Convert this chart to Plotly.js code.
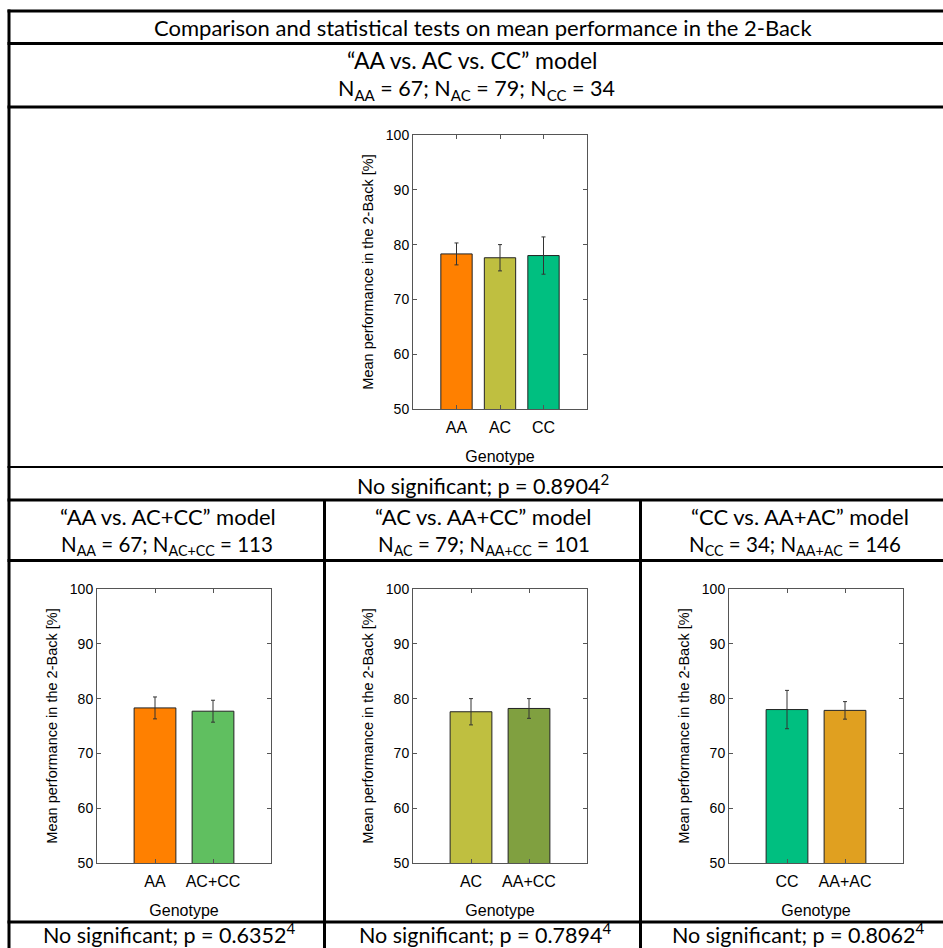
<!DOCTYPE html>
<html>
<head>
<meta charset="utf-8">
<script src="https://cdn.plot.ly/plotly-3.0.1.min.js"></script>
<style>html,body{margin:0;padding:0;background:#fff;}#chart{width:943px;height:948px;}</style>
</head>
<body>
<div id="chart"></div>
<script>
// ---- Data ----
const catsAll = ['AA', 'AC', 'CC'];
const meansAll = [78.3, 77.6, 78.0];
const errAll = [2.0, 2.4, 3.4];
const colorsAll = ['#FF8000', '#BFBF40', '#00BF80'];

const catsAA = ['AA', 'AC+CC'];
const meansAA = [78.3, 77.7];
const errAA = [2.0, 2.0];
const colorsAA = ['#FF8000', '#60BF60'];

const catsAC = ['AC', 'AA+CC'];
const meansAC = [77.6, 78.2];
const errAC = [2.4, 1.8];
const colorsAC = ['#BFBF40', '#80A040'];

const catsCC = ['CC', 'AA+AC'];
const meansCC = [78.0, 77.85];
const errCC = [3.5, 1.6];
const colorsCC = ['#00BF80', '#E0A020'];

const yTicks = [50, 60, 70, 80, 90, 100];
const yTitle = 'Mean performance in the 2-Back [%]';
const xTitle = 'Genotype';

const headerTitle = 'Comparison and statistical tests on mean performance in the 2-Back';
const modelAll = '“AA vs. AC vs. CC” model';
const nAll = 'N<sub>AA</sub> = 67; N<sub>AC</sub> = 79; N<sub>CC</sub> = 34';
const pAll = 'No significant; p = 0.8904<sup>2</sup>';
const modelTexts = ['“AA vs. AC+CC” model', '“AC vs. AA+CC” model', '“CC vs. AA+AC” model'];
const nTexts = ['N<sub>AA</sub> = 67; N<sub>AC+CC</sub> = 113',
                'N<sub>AC</sub> = 79; N<sub>AA+CC</sub> = 101',
                'N<sub>CC</sub> = 34; N<sub>AA+AC</sub> = 146'];
const pTexts = ['No significant; p = 0.6352<sup>4</sup>',
                'No significant; p = 0.7894<sup>4</sup>',
                'No significant; p = 0.8062<sup>4</sup>'];

// ---- Layout helpers ----
const W = 943, H = 948;
const px = x => x / W;
const py = y => 1 - y / H;

function barTrace(cats, means, err, colors, ax) {
  return {
    type: 'bar', x: cats, y: means,
    xaxis: 'x' + ax, yaxis: 'y' + ax,
    width: 0.72,
    marker: {color: colors, line: {color: '#222', width: 1}},
    error_y: {type: 'data', array: err, visible: true, color: '#333', thickness: 1, width: 2},
    hoverinfo: 'x+y', showlegend: false
  };
}

const fam = 'Liberation Sans, Arial, sans-serif';
const yTickFont = {family: fam, size: 14, color: '#000'};
const xTickFont = {family: fam, size: 16, color: '#000'};
const yAxFont = {family: fam, size: 14.5, color: '#000'};
const xAxFont = {family: fam, size: 16, color: '#000'};

function xAxis(n, x0, x1, yAnchor) {
  return {
    domain: [px(x0), px(x1)], anchor: 'y' + yAnchor,
    type: 'category', range: [-1, n],
    showline: true, linecolor: '#555', linewidth: 1, mirror: 'ticks',
    ticks: 'inside', ticklen: 4, tickcolor: '#555', ticklabelstandoff: 4,
    showgrid: false, zeroline: false, tickfont: xTickFont,
    title: {text: xTitle, font: xAxFont, standoff: 15},
    fixedrange: true, automargin: false
  };
}
function yAxis(y0, y1, xAnchor) {
  return {
    domain: [py(y1), py(y0)], anchor: 'x' + xAnchor,
    range: [50, 100], tickvals: yTicks,
    showline: true, linecolor: '#555', linewidth: 1, mirror: 'ticks',
    ticks: 'inside', ticklen: 4, tickcolor: '#555',
    showgrid: false, zeroline: false, tickfont: yTickFont,
    title: {text: yTitle, font: yAxFont, standoff: 8},
    fixedrange: true, automargin: false
  };
}

const traces = [
  barTrace(catsAll, meansAll, errAll, colorsAll, ''),
  barTrace(catsAA, meansAA, errAA, colorsAA, '2'),
  barTrace(catsAC, meansAC, errAC, colorsAC, '3'),
  barTrace(catsCC, meansCC, errCC, colorsCC, '4')
];

// table lines
function hLine(y, x0, x1, w) {
  return {type: 'line', xref: 'paper', yref: 'paper', x0: px(x0), x1: px(x1), y0: py(y), y1: py(y),
          line: {color: '#000', width: w || 3}, layer: 'above'};
}
function vLine(x, y0, y1) {
  return {type: 'line', xref: 'paper', yref: 'paper', x0: px(x), x1: px(x), y0: py(y0), y1: py(y1),
          line: {color: '#000', width: 3}, layer: 'above'};
}
const shapes = [
  hLine(11, 7.5, 945), hLine(43.5, 7.5, 945), hLine(107, 7.5, 945),
  hLine(467, 7.5, 945, 2), hLine(500, 7.5, 945), hLine(560.5, 7.5, 945), hLine(922, 7.5, 945),
  vLine(9, 9.5, 950), vLine(324.5, 500, 950), vLine(640.5, 500, 950)
];

const fontFam = 'Lato, Open Sans, sans-serif';
function txt(text, x, y, size) {
  return {text: text, xref: 'paper', yref: 'paper', x: px(x), y: py(y),
          xanchor: 'center', yanchor: 'middle', showarrow: false,
          font: {family: fontFam, size: size || 21, color: '#000'}};
}
const modelCenters = [167.5, 483, 799.5];
const nCenters = [166.5, 483.5, 795];
const pCenters = [168.5, 484.5, 797.5];
const annotations = [
  txt(headerTitle, 482.5, 28, 22),
  txt(modelAll, 472.5, 60, 23),
  txt(nAll, 476, 89, 21.5),
  txt(pAll, 483, 484, 21.5)
];
for (let i = 0; i < 3; i++) {
  annotations.push(txt(modelTexts[i], modelCenters[i], 516, 22));
  annotations.push(txt(nTexts[i], nCenters[i], 545, 20.5));
  annotations.push(txt(pTexts[i], pCenters[i], 933.5, 21.5));
}

const layout = {
  width: W, height: H,
  margin: {l: 0, r: 0, t: 0, b: 0, pad: 0},
  paper_bgcolor: '#fff', plot_bgcolor: '#fff',
  showlegend: false,
  xaxis: xAxis(3, 413, 587, ''), yaxis: yAxis(135, 409, ''),
  xaxis2: xAxis(2, 97, 271, '2'), yaxis2: yAxis(589, 863, '2'),
  xaxis3: xAxis(2, 413, 587, '3'), yaxis3: yAxis(589, 863, '3'),
  xaxis4: xAxis(2, 729, 903, '4'), yaxis4: yAxis(589, 863, '4'),
  shapes: shapes, annotations: annotations
};

Plotly.newPlot('chart', traces, layout, {displayModeBar: false, staticPlot: true});
</script>
</body>
</html>
